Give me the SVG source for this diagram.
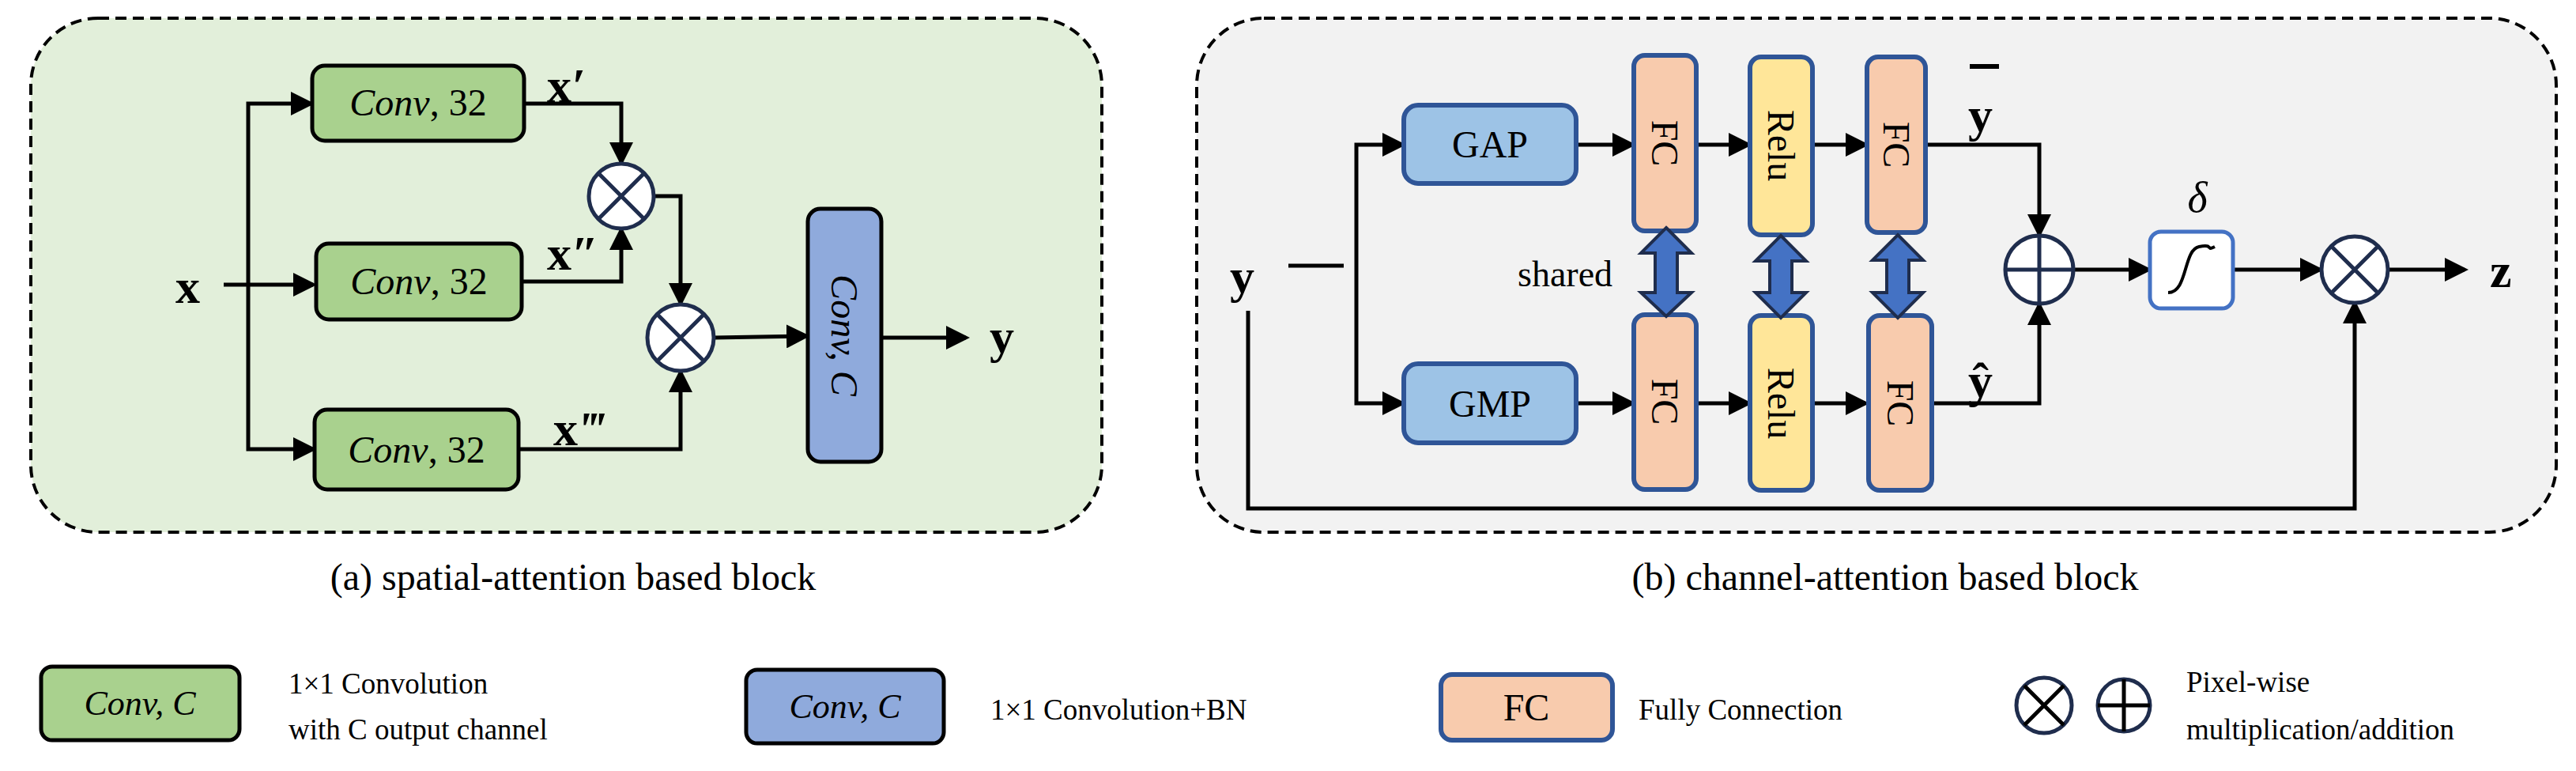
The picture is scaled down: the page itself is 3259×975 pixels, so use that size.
<svg xmlns="http://www.w3.org/2000/svg" width="3259" height="975" viewBox="0 0 3259 975" font-family="'Liberation Serif', 'DejaVu Serif', serif">
<defs>
<marker id="ah" markerWidth="6" markerHeight="6" refX="5" refY="3" orient="auto" markerUnits="strokeWidth"><path d="M0,0 L6,3 L0,6 z" fill="#000"/></marker>
</defs>
<style>
text{font-family:'Liberation Serif','DejaVu Serif',serif;fill:#000}
.conn{fill:none;stroke:#000;stroke-width:5}
.arr{marker-end:url(#ah)}
.green{fill:#a9d18e;stroke:#000;stroke-width:5}
.blue{fill:#8faadc;stroke:#000;stroke-width:5}
.pool{fill:#9dc3e6;stroke:#2f5597;stroke-width:6}
.fc{fill:#f8cbad;stroke:#2f5597;stroke-width:6}
.relu{fill:#ffe699;stroke:#2f5597;stroke-width:6}
.op{fill:#fff;stroke:#1f2d4d;stroke-width:5}
.dbl{fill:#4472c4;stroke:#1f2d4d;stroke-width:4}
.big{font-size:62px;font-weight:bold}
.it{font-style:italic}
</style>
<rect x="39" y="23" width="1355" height="650" rx="85" fill="#e2efda" stroke="#000" stroke-width="4" stroke-dasharray="14,8"/>
<rect x="1514" y="23" width="1720" height="650" rx="85" fill="#f2f2f2" stroke="#000" stroke-width="4" stroke-dasharray="14,8"/>

<g id="connectors">
<path class="conn arr" d="M283,360 L396,360"/>
<path class="conn arr" d="M314,360 V131 H393"/>
<path class="conn arr" d="M314,360 V568 H396"/>
<path class="conn arr" d="M663,131 H786 V205"/>
<path class="conn arr" d="M660,356 H786 V291"/>
<path class="conn arr" d="M826,248 H861 V383"/>
<path class="conn arr" d="M656,568 H861 V471"/>
<path class="conn arr" d="M903,427 L1020,425"/>
<path class="conn arr" d="M1115,427 H1222"/>
<path class="conn" d="M1630,336 H1700"/>
<path class="conn arr" d="M1716,336 V183 H1774"/>
<path class="conn arr" d="M1716,336 V510 H1774"/>
<path class="conn arr" d="M1994,183 H2065"/>
<path class="conn arr" d="M2146,183 H2212"/>
<path class="conn arr" d="M2293,183 H2360"/>
<path class="conn arr" d="M1994,510 H2065"/>
<path class="conn arr" d="M2146,510 H2212"/>
<path class="conn arr" d="M2293,510 H2360"/>
<path class="conn arr" d="M2436,183 H2580 V296"/>
<path class="conn arr" d="M2444,510 H2580 V386"/>
<path class="conn arr" d="M2624,341 H2718"/>
<path class="conn arr" d="M2825,341 H2935"/>
<path class="conn arr" d="M3021,341 H3118"/>
<path class="conn arr" d="M1579,393 V643 H2979 V384"/>
</g>

<g id="conv1"><rect class="green" x="395" y="83" width="268" height="95" rx="16"/><text x="529" y="146" font-size="48" text-anchor="middle"><tspan class="it">Conv</tspan>, 32</text></g>
<g id="conv2"><rect class="green" x="400" y="308" width="260" height="96" rx="16"/><text x="530" y="372" font-size="48" text-anchor="middle"><tspan class="it">Conv</tspan>, 32</text></g>
<g id="conv3"><rect class="green" x="398" y="518" width="258" height="101" rx="16"/><text x="527" y="585" font-size="48" text-anchor="middle"><tspan class="it">Conv</tspan>, 32</text></g>
<g id="mul1"><circle class="op" cx="786" cy="248" r="41"/><path class="op" d="M757,219 L815,277 M815,219 L757,277"/></g>
<g id="mul2"><circle class="op" cx="861" cy="427" r="42"/><path class="op" d="M831,397 L891,457 M891,397 L831,457"/></g>
<g id="convC"><rect class="blue" x="1022" y="264" width="93" height="320" rx="16"/><text class="it" transform="translate(1068,424) rotate(90)" x="0" y="16" font-size="48" text-anchor="middle">Conv, C</text></g>
<text class="big" x="222" y="383">x</text>
<text class="big" x="692" y="129">x<tspan class="it">′</tspan></text>
<text class="big" x="692" y="341">x<tspan class="it">″</tspan></text>
<text class="big" x="700" y="563">x<tspan class="it">‴</tspan></text>
<text class="big" x="1252" y="446">y</text>
<text x="725" y="746" font-size="48" text-anchor="middle">(a) spatial-attention based block</text>

<g id="gap"><rect class="pool" x="1776" y="133" width="218" height="99" rx="18"/><text x="1885" y="199" font-size="48" text-anchor="middle">GAP</text></g>
<g id="gmp"><rect class="pool" x="1776" y="460" width="218" height="100" rx="18"/><text x="1885" y="527" font-size="48" text-anchor="middle">GMP</text></g>
<g id="fc1a"><rect class="fc" x="2067" y="70" width="79" height="222" rx="14"/><text transform="translate(2106,181) rotate(90)" y="16" font-size="48" text-anchor="middle">FC</text></g>
<g id="relu_a"><rect class="relu" x="2214" y="72" width="79" height="225" rx="14"/><text transform="translate(2253,184) rotate(90)" y="16" font-size="48" text-anchor="middle">Relu</text></g>
<g id="fc2a"><rect class="fc" x="2362" y="72" width="74" height="222" rx="14"/><text transform="translate(2399,183) rotate(90)" y="16" font-size="48" text-anchor="middle">FC</text></g>
<g id="fc1b"><rect class="fc" x="2067" y="398" width="79" height="221" rx="14"/><text transform="translate(2106,508) rotate(90)" y="16" font-size="48" text-anchor="middle">FC</text></g>
<g id="relu_b"><rect class="relu" x="2214" y="399" width="79" height="221" rx="14"/><text transform="translate(2253,510) rotate(90)" y="16" font-size="48" text-anchor="middle">Relu</text></g>
<g id="fc2b"><rect class="fc" x="2364" y="399" width="80" height="221" rx="14"/><text transform="translate(2404,510) rotate(90)" y="16" font-size="48" text-anchor="middle">FC</text></g>
<g id="shared_arrows">
<path class="dbl" d="M2108,288 L2140,320 L2122,320 L2122,370 L2140,370 L2108,400 L2076,370 L2094,370 L2094,320 L2076,320 Z"/>
<path class="dbl" d="M2253,298 L2285,330 L2267,330 L2267,370 L2285,370 L2253,402 L2221,370 L2239,370 L2239,330 L2221,330 Z"/>
<path class="dbl" d="M2401,297 L2433,329 L2415,329 L2415,370 L2433,370 L2401,402 L2369,370 L2387,370 L2387,329 L2369,329 Z"/>
</g>
<text x="1920" y="362" font-size="46">shared</text>
<g id="add"><circle class="op" cx="2580" cy="341" r="43"/><path class="op" d="M2537,341 H2623 M2580,298 V384"/></g>
<g id="sigmoid"><rect x="2720" y="293" width="105" height="97" rx="14" fill="#fff" stroke="#4472c4" stroke-width="5"/><path d="M2743,370 C2768,370 2762,316 2782,312 S2790,318 2802,312" fill="none" stroke="#000" stroke-width="4"/></g>
<g id="mul3"><circle class="op" cx="2979" cy="341" r="42"/><path class="op" d="M2949,311 L3009,371 M3009,311 L2949,371"/></g>
<text class="big" x="1556" y="370">y</text>
<text class="big" x="2490" y="166">y</text>
<path d="M2492,84 H2529" stroke="#000" stroke-width="6"/>
<text class="big" x="2490" y="502">ŷ</text>
<text class="it" x="2780" y="268" font-size="54" text-anchor="middle">δ</text>
<text class="big" x="3150" y="363">z</text>
<text x="2385" y="746" font-size="48" text-anchor="middle">(b) channel-attention based block</text>

<g id="legend">
<rect class="green" x="52" y="843" width="251" height="93" rx="14"/><text class="it" x="177" y="904" font-size="44" text-anchor="middle">Conv, C</text>
<text x="365" y="877" font-size="37">1×1 Convolution</text>
<text x="365" y="935" font-size="37">with C output channel</text>
<rect class="blue" x="944" y="847" width="250" height="93" rx="14"/><text class="it" x="1069" y="908" font-size="44" text-anchor="middle">Conv, C</text>
<text x="1253" y="910" font-size="37">1×1 Convolution+BN</text>
<rect class="fc" x="1823" y="853" width="217" height="83" rx="14"/><text x="1931" y="911" font-size="48" text-anchor="middle">FC</text>
<text x="2073" y="910" font-size="37">Fully Connection</text>
<circle class="op" cx="2586" cy="892" r="35" stroke="#000"/><path d="M2561,867 L2611,917 M2611,867 L2561,917" stroke="#000" stroke-width="5"/>
<circle class="op" cx="2687" cy="892" r="33" stroke="#000"/><path d="M2654,892 H2720 M2687,859 V925" stroke="#000" stroke-width="5"/>
<text x="2766" y="875" font-size="37">Pixel-wise</text>
<text x="2766" y="935" font-size="37">multiplication/addition</text>
</g>
</svg>
